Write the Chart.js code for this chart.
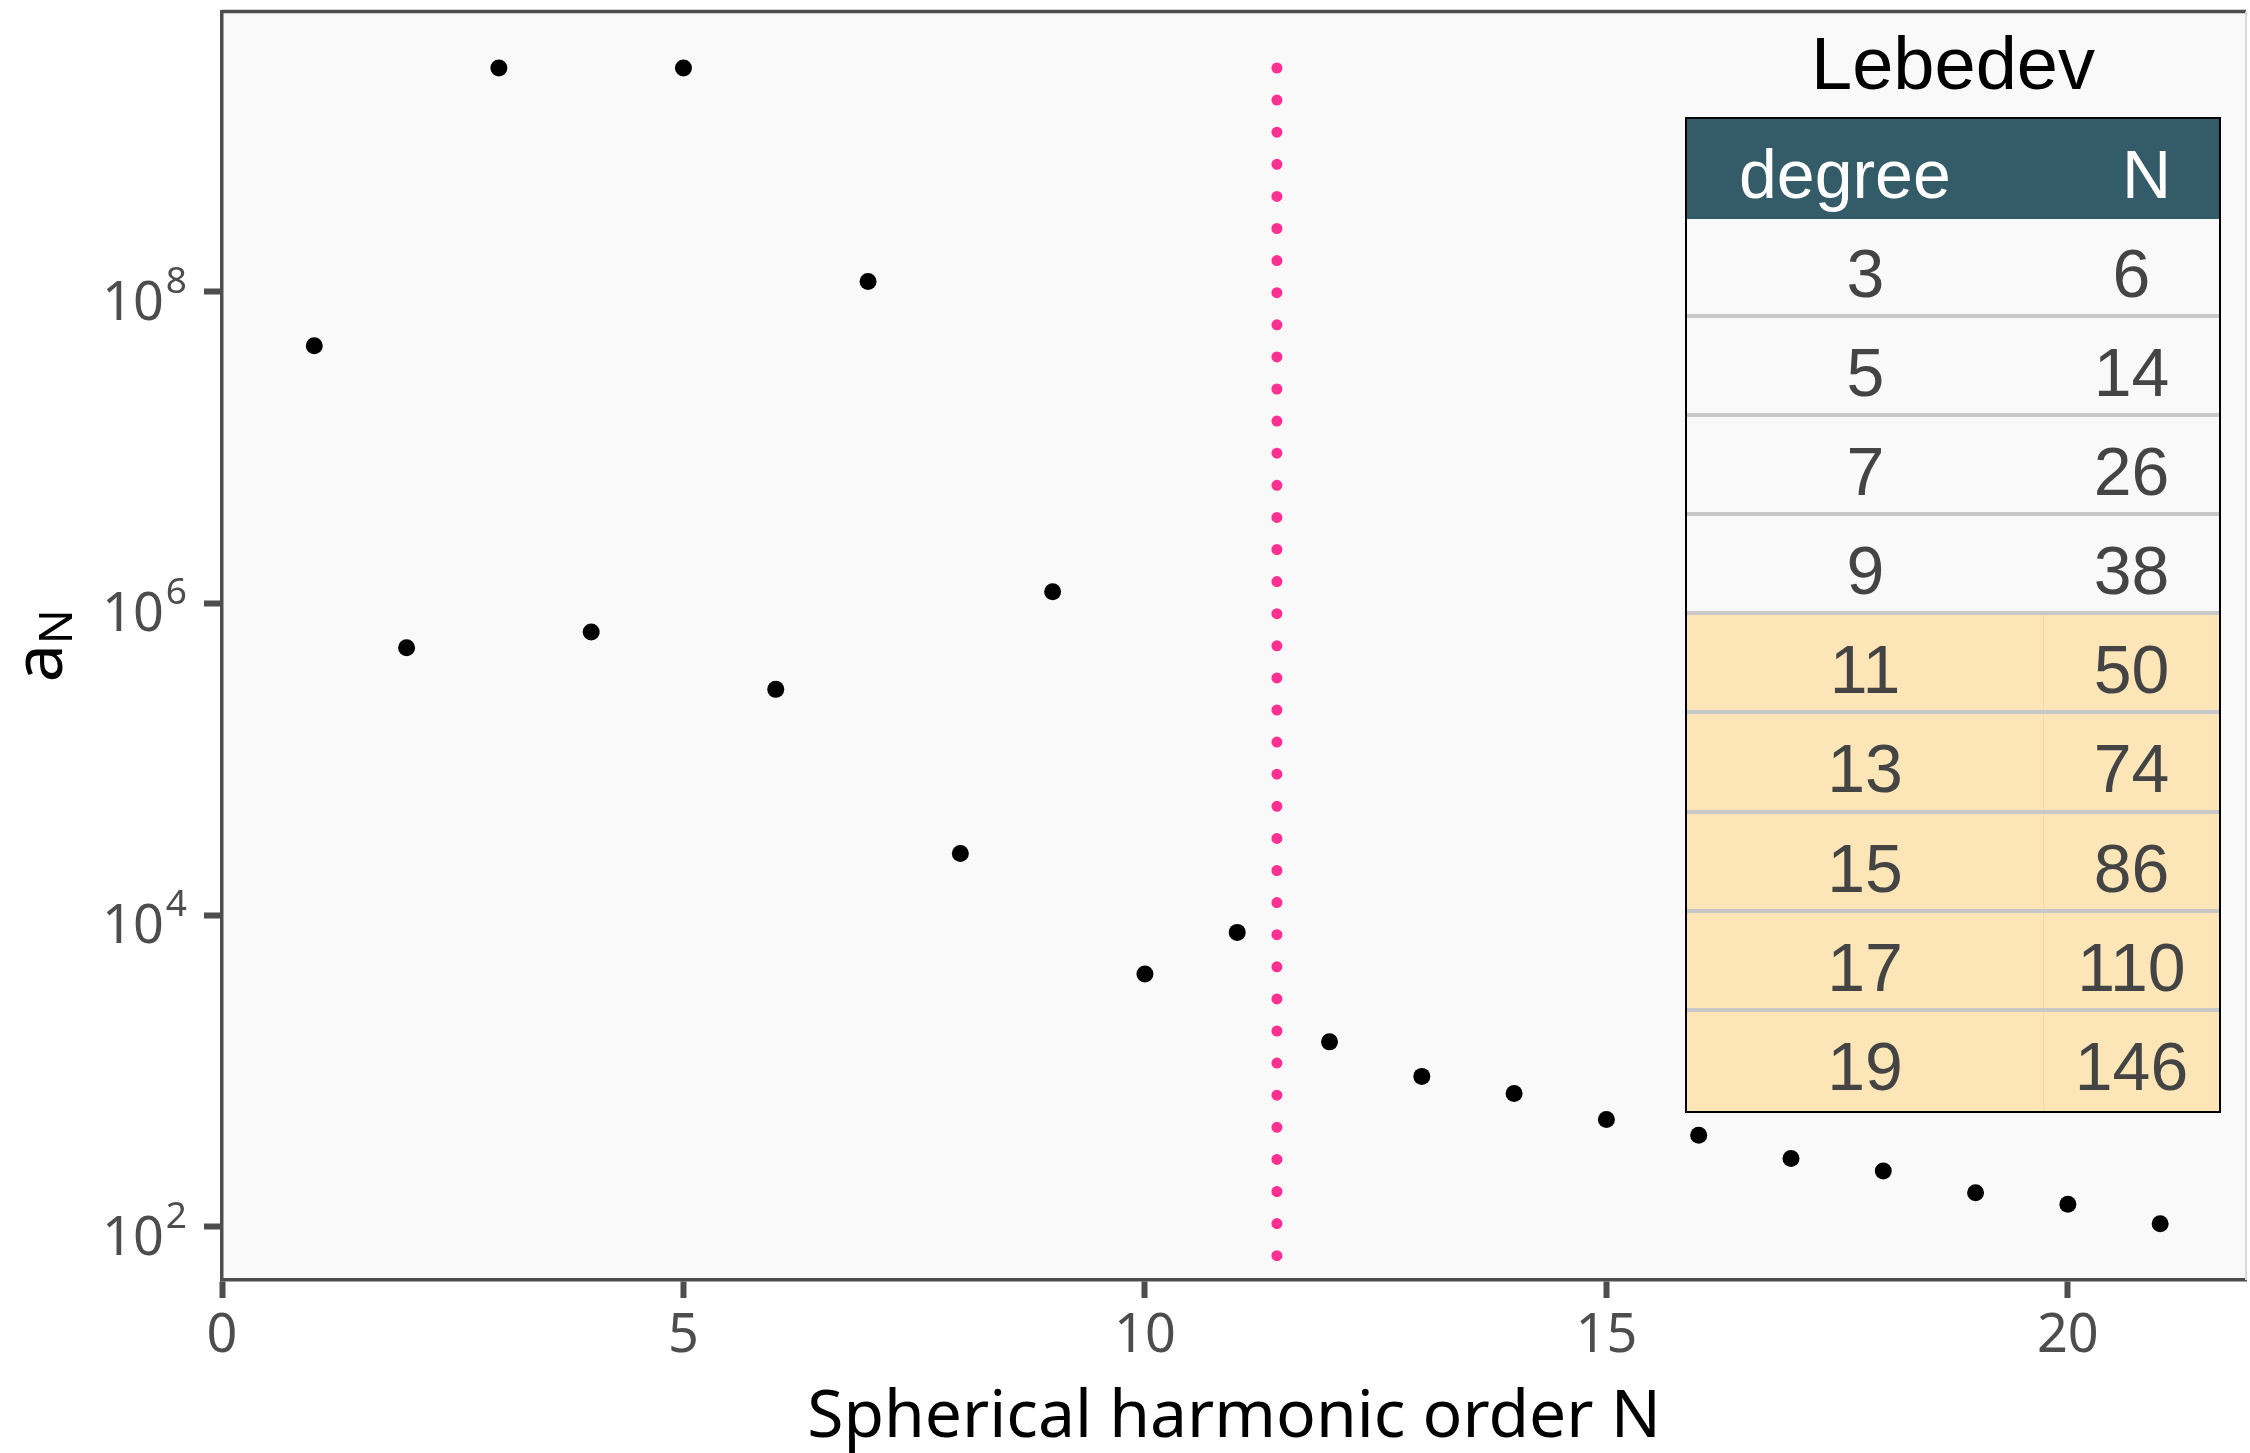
<!DOCTYPE html>
<html lang="en">
<head>
    <meta charset="UTF-8">
    <title>Spherical harmonic order N - Lebedev</title>
    <script src="https://cdn.jsdelivr.net/npm/chart.js"></script>
    <style>
        body { margin: 0; background: #fff; }
        #wrap { position: relative; width: 2250px; height: 1453px; }
        #lebedev { position: absolute; left: 1685px; top: 13px; width: 536px; font-family: "Liberation Sans", Arial, sans-serif; }
        #lebedev .title { height: 104px; line-height: 101px; text-align: center; font-size: 74px; color: #000; }
        #tbl { border: 2.5px solid #000; box-sizing: border-box; width: 536px; }
        .row { display: flex; height: 99.2px; box-sizing: border-box; font-size: 68px; color: #444; }
        .row.sep { border-bottom: 4.5px solid #c8c8c8; }
        .row span { display: block; box-sizing: border-box; text-align: center; padding-top: 11px; line-height: 86px; }
        .row .c1 { width: 357px; }
        .row .c2 { flex: 1; }
        .row.head { background: #335b68; color: #fff; height: 99.5px; }
        .row.head span { padding-top: 14px; line-height: 82px; }
        .row.head .c1 { text-align: left; padding-left: 52px; }
        .row.head .c2 { text-align: right; padding-right: 48px; }
        .row.plain { background: #f9f9f9; }
        .row.shade { background: #fce6b8; }
        .row.shade .c1 { border-right: 1.5px solid #f7d9a0; }
    </style>
</head>
<body>
<div id="wrap">
    <canvas id="chart" width="2250" height="1453"></canvas>
    <div id="lebedev">
        <div class="title">Lebedev</div>
        <div id="tbl"></div>
    </div>
</div>
<script>
    // harmonic orders and their coefficients
    const orders = [1, 2, 3, 4, 5, 6, 7, 8, 9, 10, 11, 12, 13, 14, 15, 16, 17, 18, 19, 20, 21];
    const coefficients = [4.5e7, 5.2e5, 2.72e9, 6.55e5, 2.72e9, 2.81e5, 1.16e8, 2.49e4, 1.19e6, 4200,
        7760, 1540, 925, 718, 490, 388, 275, 229, 166, 140, 105];

    // dotted cut-off line
    const cutoffOrder = 11.43;
    const cutoffRange = [2.72e9, 64];

    const xTicks = [0, 5, 10, 15, 20];
    const yTicks = [1e2, 1e4, 1e6, 1e8];

    // Lebedev table
    const lebedevDegree = [3, 5, 7, 9, 11, 13, 15, 17, 19];
    const lebedevN = [6, 14, 26, 38, 50, 74, 86, 110, 146];
    const shadeFromDegree = 11;

    // build table
    const tbl = document.getElementById("tbl");
    let html = '<div class="row head"><span class="c1">degree</span><span class="c2">N</span></div>';
    lebedevDegree.forEach((d, i) => {
        let cls = d >= shadeFromDegree ? "shade" : "plain";
        if (i < lebedevDegree.length - 1) cls += " sep";
        html += `<div class="row ${cls}"><span class="c1">${d}</span><span class="c2">${lebedevN[i]}</span></div>`;
    });
    tbl.innerHTML = html;

    const axisColor = "#4d4d4d";

    const panelPlugin = {
        id: "panel",
        beforeDraw(chart) {
            const { ctx, chartArea: a } = chart;
            ctx.save();
            ctx.fillStyle = "#f9f9f9";
            ctx.fillRect(a.left, a.top, a.right - a.left, a.bottom - a.top);
            ctx.restore();
        },
        afterDraw(chart) {
            const { ctx, chartArea: a } = chart;
            const yScale = chart.scales.y;
            ctx.save();
            ctx.strokeStyle = axisColor;
            ctx.lineWidth = 3.5;
            ctx.beginPath();
            ctx.moveTo(a.left, a.top);
            ctx.lineTo(a.right, a.top);
            ctx.stroke();
            ctx.strokeStyle = "#d9d9d9";
            ctx.lineWidth = 2;
            ctx.beginPath();
            ctx.moveTo(a.right, a.top);
            ctx.lineTo(a.right, a.bottom);
            ctx.stroke();

            // y tick labels as 10 with a raised exponent
            ctx.fillStyle = axisColor;
            ctx.textBaseline = "alphabetic";
            ctx.textAlign = "left";
            const labelRight = a.left - 18 - 17;
            yTicks.forEach(v => {
                const py = yScale.getPixelForValue(v);
                const exp = String(Math.round(Math.log10(v)));
                ctx.font = '37px "Noto Sans"';
                const we = ctx.measureText(exp).width;
                ctx.fillText(exp, labelRight - we, py + 1);
                ctx.font = '54px "Noto Sans"';
                const wb = ctx.measureText("10").width;
                ctx.fillText("10", labelRight - we - wb - 2, py + 28);
            });

            // y axis title a_N
            const cy = (a.top + a.bottom) / 2;
            ctx.translate(62, cy);
            ctx.rotate(-Math.PI / 2);
            ctx.fillStyle = "#000";
            ctx.font = '68px "Noto Sans"';
            const wa = ctx.measureText("a").width;
            ctx.font = '46px "Noto Sans"';
            const wn = ctx.measureText("N").width;
            const start = -(wa + wn) / 2;
            ctx.font = '68px "Noto Sans"';
            ctx.fillText("a", start, 0);
            ctx.font = '46px "Noto Sans"';
            ctx.fillText("N", start + wa, 10);
            ctx.restore();
        }
    };

    const ctx = document.getElementById("chart").getContext("2d");
    const chart = new Chart(ctx, {
        type: "scatter",
        data: {
            datasets: [
                {
                    data: orders.map((n, i) => ({ x: n, y: coefficients[i] })),
                    backgroundColor: "#000",
                    borderColor: "#000",
                    pointRadius: 8.5,
                    pointBorderWidth: 0
                },
                {
                    data: cutoffRange.map(v => ({ x: cutoffOrder, y: v })),
                    showLine: true,
                    borderColor: "#ff3092",
                    borderWidth: 11,
                    borderDash: [0, 32.1],
                    borderCapStyle: "round",
                    pointRadius: 0
                }
            ]
        },
        options: {
            responsive: false,
            animation: false,
            devicePixelRatio: 1,
            layout: { autoPadding: false, padding: { top: 11.5, right: 4, left: 0, bottom: 0 } },
            plugins: { legend: { display: false }, tooltip: { enabled: false } },
            scales: {
                x: {
                    type: "linear",
                    min: 0,
                    max: 21.93,
                    afterBuildTicks: s => { s.ticks = xTicks.map(v => ({ value: v })); },
                    afterFit: s => { s.height = 173; s.paddingLeft = 0; s.paddingRight = 0; },
                    border: { display: true, color: axisColor, width: 3.5 },
                    grid: { display: true, drawOnChartArea: false, drawTicks: true, tickLength: 18, tickWidth: 6, tickColor: axisColor },
                    ticks: { color: axisColor, font: { family: "Noto Sans", size: 54 }, padding: 6, maxRotation: 0 },
                    title: {
                        display: true,
                        text: "Spherical harmonic order N",
                        color: "#000",
                        font: { family: "Noto Sans", size: 66, lineHeight: 1 },
                        padding: { top: 0, bottom: 2 }
                    }
                },
                y: {
                    type: "logarithmic",
                    min: Math.pow(10, 1.66),
                    max: Math.pow(10, 9.797),
                    afterBuildTicks: s => { s.ticks = yTicks.map(v => ({ value: v })); },
                    afterFit: s => { s.width = 222; s.paddingTop = 0; s.paddingBottom = 0; },
                    border: { display: true, color: axisColor, width: 3.5 },
                    grid: { display: true, drawOnChartArea: false, drawTicks: true, tickLength: 18, tickWidth: 6, tickColor: axisColor },
                    ticks: { display: false }
                }
            }
        },
        plugins: [panelPlugin]
    });
</script>
</body>
</html>
